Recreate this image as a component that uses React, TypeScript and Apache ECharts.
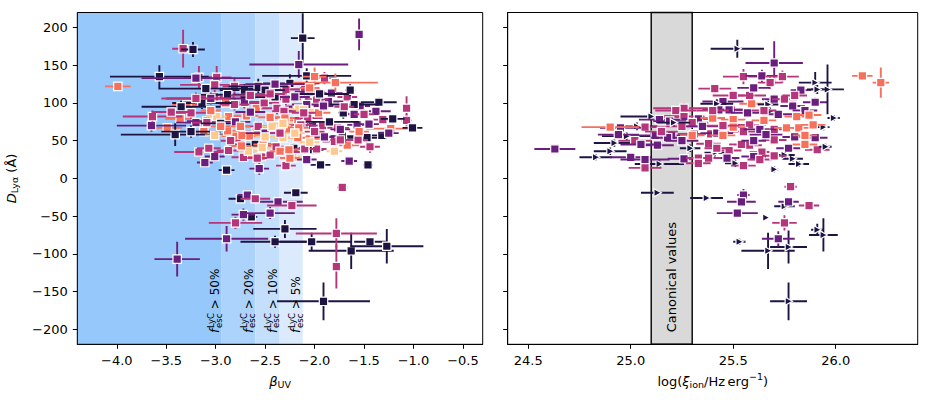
import React, { useEffect, useRef } from "react";
import * as echarts from "echarts";

// magma-like colours: navy, purple, magenta, orange, peach
const PALETTE = ["#1e1444", "#6a1f7e", "#b5367a", "#f6705c", "#fdc98f"];

// ---------- left panel: [beta_UV, D_Lya, betaErr, DErr] ----------
const leftNavy = [
  [-3.23, 171, 0.12, 10], [-2.12, 186, 0.12, 33], [-3.57, 135, 0.5, 15], [-2.08, 136, 0.45, 10],
  [-2.25, 126, 0.3, 12], [-2.71, 117, 0.25, 8], [-2.57, 122, 0.3, 10], [-1.35, 101, 0.18, 6],
  [-1.21, 79, 0.12, 6], [-1.01, 67, 0.1, 4], [-1.47, 54, 0.2, 6], [-1.32, 57, 0.1, 5],
  [-1.46, 18, 0.05, 5], [-1.94, 18, 0.1, 5], [-1.72, 56, 0.12, 6], [-2.01, 38, 0.1, 6],
  [-3.41, 58, 0.55, 15], [-3.25, 62, 0.3, 8], [-3.14, 100, 0.3, 8], [-2.89, 11, 0.08, 5],
  [-2.19, -19, 0.12, 4], [-1.64, 117, 0.05, 8], [-2.88, 111, 0.3, 6], [-3.1, 119, 0.48, 6],
  [-2.21, 40, 0.15, 6], [-1.71, 87, 0.05, 8], [-2.6, 45, 0.25, 6], [-2.4, 108, 0.35, 6],
  [-2.95, 73, 0.2, 6], [-1.85, 75, 0.3, 6], [-2.5, 117, 0.2, 6], [-1.95, 112, 0.3, 6],
  [-1.6, 98, 0.25, 5], [-3.35, 95, 0.4, 8],
  [-2.75, -27, 0.12, 4], [-2.64, -51, 0.06, 4], [-2.3, -67, 0.32, 12], [-2.4, -84, 0.35, 8],
  [-2.03, -84, 0.4, 12], [-1.63, -96, 0.43, 24], [-1.44, -84, 0.16, 6], [-1.27, -90, 0.37, 23],
  [-1.91, -163, 0.47, 25],
];
const leftPurple = [
  [-1.55, 191, 0.03, 21], [-2.16, 151, 0.5, 18], [-1.83, 113, 0.12, 6], [-1.54, 96, 0.1, 6],
  [-1.38, 89, 0.15, 6], [-1.65, 23, 0.08, 4], [-2.56, 13, 0.1, 8], [-3.11, 21, 0.08, 6],
  [-3.01, 29, 0.1, 6], [-3.65, 70, 0.35, 8], [-3.2, 74, 0.2, 6], [-3.09, 76, 0.2, 6],
  [-2.71, 101, 0.2, 8], [-2.26, 92, 0.15, 8], [-1.86, 102, 0.15, 6], [-1.6, 85, 0.12, 6],
  [-1.57, 71, 0.1, 6], [-2.02, 70, 0.15, 6], [-2.36, 35, 0.12, 6], [-2.08, 98, 0.15, 8],
  [-2.08, 25, 0.1, 6], [-1.91, 96, 0.1, 6], [-1.74, 65, 0.1, 6], [-3.05, 106, 0.45, 8],
  [-3.2, 133, 0.55, 6], [-2.5, 60, 0.2, 6], [-2.8, 75, 0.15, 6], [-2.05, 115, 0.15, 6],
  [-2.4, 125, 0.3, 6], [-1.45, 72, 0.1, 5], [-2.2, 108, 0.15, 6], [-2.65, 88, 0.15, 6],
  [-1.9, 55, 0.1, 5], [-1.25, 60, 0.1, 5],
  [-2.68, -22, 0.1, 4], [-2.37, -31, 0.25, 4], [-2.72, -48, 0.12, 8], [-2.45, -46, 0.25, 8],
  [-2.89, -80, 0.42, 17], [-3.39, -107, 0.23, 23],
];
const leftMagenta = [
  [-3.33, 172, 0.11, 25], [-3.17, 134, 0.15, 15], [-2.99, 134, 0.15, 15], [-1.9, 133, 0.12, 8],
  [-3.01, 124, 0.35, 8], [-2.81, 122, 0.12, 12], [-2.29, 118, 0.15, 8], [-2.1, 118, 0.15, 8],
  [-1.67, 108, 0.1, 10], [-1.07, 93, 0.03, 16], [-1.31, 78, 0.1, 6], [-1.07, 77, 0.05, 8],
  [-1.44, 42, 0.1, 8], [-1.72, -12, 0.05, 4], [-2.29, 17, 0.1, 6], [-3.17, 35, 0.25, 6],
  [-3.07, 40, 0.12, 6], [-2.87, 37, 0.12, 6], [-3.64, 82, 0.3, 8], [-3.25, 87, 0.15, 8],
  [-3.09, 74, 0.15, 6], [-3.01, 108, 0.2, 8], [-2.81, 98, 0.15, 8], [-2.51, 100, 0.15, 8],
  [-2.38, 93, 0.15, 8], [-2.29, 105, 0.15, 8], [-2.07, 80, 0.15, 8], [-1.98, 105, 0.12, 8],
  [-1.77, 67, 0.12, 6], [-1.92, 70, 0.12, 6], [-1.8, 49, 0.12, 6], [-1.56, 51, 0.1, 6],
  [-1.98, 39, 0.1, 6], [-2.1, 39, 0.1, 6], [-2.57, 69, 0.15, 6], [-2.75, 45, 0.12, 6],
  [-2.39, 42, 0.12, 6], [-2.27, 35, 0.12, 6], [-2.72, 28, 0.12, 6], [-2.31, 89, 0.12, 6],
  [-2.11, 87, 0.12, 6], [-2.45, 31, 0.1, 6], [-2.58, 27, 0.1, 6], [-2.14, 71, 0.12, 6],
  [-1.74, 51, 0.1, 6], [-3.2, 106, 0.35, 8], [-2.45, 112, 0.15, 6], [-1.7, 95, 0.1, 6],
  [-2.65, 110, 0.2, 6], [-3.45, 88, 0.2, 6], [-1.5, 85, 0.1, 6], [-2.0, 62, 0.1, 6],
  [-2.35, 60, 0.1, 6], [-2.85, 50, 0.1, 6],
  [-2.6, -27, 0.15, 4], [-2.23, -36, 0.25, 4], [-2.8, -59, 0.27, 8], [-1.78, -73, 0.41, 20],
  [-1.78, -117, 0.03, 29],
];
const leftOrange = [
  [-3.99, 122, 0.13, 4], [-2.0, 135, 0.12, 12], [-1.79, 127, 0.43, 12], [-1.23, 66, 0.25, 6],
  [-1.67, 44, 0.12, 6], [-3.49, 67, 0.15, 6], [-3.36, 79, 0.15, 6], [-3.29, 98, 0.15, 6],
  [-3.12, 62, 0.12, 6], [-2.9, 100, 0.12, 6], [-2.87, 82, 0.12, 6], [-2.69, 83, 0.12, 6],
  [-2.59, 93, 0.12, 6], [-2.45, 81, 0.12, 6], [-2.17, 77, 0.12, 6], [-1.96, 87, 0.12, 6],
  [-1.97, 56, 0.12, 6], [-2.17, 54, 0.12, 6], [-2.26, 65, 0.12, 6], [-2.59, 62, 0.12, 6],
  [-2.66, 56, 0.12, 6], [-2.74, 57, 0.12, 6], [-2.82, 56, 0.12, 6], [-2.88, 63, 0.12, 6],
  [-2.54, 29, 0.12, 6], [-2.43, 69, 0.1, 6], [-2.52, 45, 0.1, 6], [-2.35, 36, 0.1, 6],
  [-2.16, 67, 0.1, 6], [-2.25, 27, 0.1, 6], [-2.95, 69, 0.1, 6], [-2.75, 69, 0.1, 6],
  [-2.26, 38, 0.1, 6], [-2.74, 43, 0.1, 6], [-2.3, 80, 0.1, 6], [-2.05, 120, 0.1, 6],
  [-1.55, 62, 0.1, 6], [-3.05, 90, 0.1, 6],
];
const leftPeach = [
  [-1.8, 36, 0.08, 5], [-2.22, 28, 0.1, 5], [-3.01, 57, 0.1, 5], [-2.99, 82, 0.1, 5],
  [-2.16, 92, 0.1, 5], [-2.11, 91, 0.1, 5], [-2.32, 54, 0.1, 5], [-2.43, 69, 0.1, 5],
  [-2.34, 70, 0.1, 5], [-2.67, 36, 0.1, 5], [-2.53, 41, 0.1, 5], [-2.32, 73, 0.1, 5],
  [-2.2, 60, 0.1, 5], [-2.5, 55, 0.1, 5], [-2.05, 48, 0.1, 5],
];

// ---------- right panel: [log xi_ion, D_Lya, xiErr, DErr] ----------
const rightNavyLimits = [
  [25.52, 172, 0.13, 12], [25.9, 127, 0.08, 14], [25.96, 118, 0.08, 33], [25.91, 118, 0.05, 6],
  [25.1, 82, 0.15, 6], [25.03, 69, 0.1, 5], [24.98, 56, 0.12, 5], [24.92, 47, 0.1, 5],
  [24.9, 36, 0.08, 5], [24.83, 28, 0.08, 4], [25.14, 19, 0.12, 5], [25.21, 74, 0.08, 5],
  [25.42, 99, 0.08, 6], [25.41, 34, 0.05, 5], [25.29, 40, 0.05, 5], [25.51, 20, 0.05, 5],
  [25.67, 98, 0.05, 5], [25.68, 89, 0.05, 5], [25.7, 12, 0.02, 4], [25.79, 26, 0.05, 4],
  [25.82, 19, 0.05, 4], [25.75, 31, 0.05, 4], [25.95, 42, 0.03, 4], [25.94, 68, 0.03, 4],
  [25.99, 80, 0.03, 4], [25.13, -19, 0.08, 3], [25.37, -26, 0.08, 3], [25.75, -37, 0.05, 4],
  [25.66, -52, 0.01, 2], [25.91, -68, 0.03, 8], [25.94, -75, 0.07, 22], [25.53, -84, 0.03, 4],
  [25.67, -96, 0.13, 24], [25.77, -91, 0.09, 22], [25.77, -163, 0.09, 25],
];
const rightPurple = [
  [25.7, 153, 0.14, 29], [25.64, 136, 0.08, 8], [25.83, 117, 0.05, 6], [25.9, 101, 0.06, 6],
  [25.79, 96, 0.06, 6], [25.7, 105, 0.06, 6], [25.45, 102, 0.1, 6], [25.43, 91, 0.08, 6],
  [25.48, 91, 0.08, 6], [25.57, 87, 0.08, 6], [25.33, 79, 0.08, 6], [25.14, 78, 0.1, 6],
  [25.19, 76, 0.08, 6], [24.95, 67, 0.1, 5], [24.94, 58, 0.1, 5], [25.12, 57, 0.08, 5],
  [25.13, 44, 0.08, 5], [25.2, 57, 0.08, 5], [25.18, 54, 0.08, 5], [25.35, 69, 0.08, 5],
  [25.42, 60, 0.08, 5], [25.63, 65, 0.08, 5], [25.66, 58, 0.08, 5], [25.72, 85, 0.08, 5],
  [25.9, 54, 0.06, 5], [25.77, 40, 0.06, 5], [25.6, 29, 0.06, 5], [25.47, 27, 0.06, 5],
  [25.26, 26, 0.08, 5], [25.0, 28, 0.1, 5], [25.07, 25, 0.12, 5], [24.63, 39, 0.1, 4],
  [25.6, 120, 0.08, 6], [25.85, 90, 0.06, 6], [25.25, 50, 0.08, 5], [25.05, 45, 0.1, 5],
  [25.6, 50, 0.06, 5], [25.8, 55, 0.06, 5],
  [25.55, -22, 0.03, 8], [25.54, -31, 0.07, 4], [25.52, -46, 0.1, 5], [25.77, -31, 0.05, 5],
  [25.72, -80, 0.08, 10],
];
const rightMagenta = [
  [25.55, 135, 0.1, 10], [25.74, 135, 0.08, 8], [25.68, 127, 0.06, 8], [25.41, 119, 0.08, 6],
  [25.58, 110, 0.08, 6], [25.75, 105, 0.06, 6], [25.49, 91, 0.08, 6], [25.26, 93, 0.15, 6],
  [25.22, 90, 0.1, 6], [25.26, 82, 0.1, 6], [25.3, 74, 0.08, 6], [25.07, 68, 0.1, 5],
  [25.02, 50, 0.08, 5], [25.25, 69, 0.08, 5], [25.31, 59, 0.08, 5], [25.39, 59, 0.08, 5],
  [25.58, 71, 0.08, 5], [25.55, 62, 0.08, 5], [25.7, 65, 0.06, 5], [25.7, 51, 0.06, 5],
  [25.91, 38, 0.06, 5], [25.64, 35, 0.06, 5], [25.58, 44, 0.06, 5], [25.54, 45, 0.06, 5],
  [25.48, 37, 0.06, 5], [25.38, 46, 0.06, 5], [25.42, 40, 0.06, 5], [25.38, 27, 0.06, 5],
  [25.33, 27, 0.06, 5], [25.33, 20, 0.06, 5], [25.55, 17, 0.06, 5], [25.63, 25, 0.06, 5],
  [25.07, 14, 0.08, 5], [25.5, 110, 0.1, 6], [25.65, 90, 0.06, 6], [25.45, 70, 0.08, 5],
  [25.15, 62, 0.08, 5], [25.7, 30, 0.06, 5], [25.4, 90, 0.08, 6], [25.8, 110, 0.06, 6],
  [25.78, -11, 0.03, 6], [25.87, -36, 0.05, 5], [25.75, -59, 0.06, 10],
];
const rightOrange = [
  [26.13, 136, 0.05, 5], [26.22, 127, 0.04, 20], [25.59, 99, 0.06, 6], [25.4, 80, 0.06, 6],
  [25.5, 78, 0.06, 6], [24.9, 68, 0.14, 4], [25.3, 57, 0.06, 5], [25.45, 57, 0.06, 5],
  [25.5, 68, 0.06, 5], [25.65, 77, 0.06, 5], [25.76, 67, 0.06, 5], [25.82, 67, 0.06, 5],
  [25.81, 82, 0.06, 5], [25.87, 84, 0.06, 5], [25.89, 71, 0.06, 5], [25.85, 57, 0.06, 5],
  [25.85, 45, 0.06, 5],
];

// ---------- ticks, spans, labels ----------
const leftXTicks = [-4.0, -3.5, -3.0, -2.5, -2.0, -1.5, -1.0, -0.5];
const rightXTicks = [24.5, 25.0, 25.5, 26.0];
const yTicks = [-200, -150, -100, -50, 0, 50, 100, 150, 200];
const leftXRange = [-4.4, -0.3];
const rightXRange = [24.4, 26.4];
const yRange = [-220, 220];
const fescBounds = [-2.94, -2.6, -2.36, -2.12];
const fescLabels = ["50%", "20%", "10%", "5%"];
const fescColors = ["#97c8fb", "#abd3fb", "#c3dffc", "#dbebfd"];
const canonicalRange = [25.1, 25.3];

const FONT = "DejaVu Sans";
const GL = { left: 77.3, top: 12.5, width: 405.4, height: 331.8 };
const GR = { left: 507.7, top: 12.5, width: 410, height: 331.8 };

// drawing-order offset per colour group (later = on top)
function interleave(groups: number[][][], shape: number, colorIdx: number[], lift: number[]) {
  const items: { k: number; v: number[] }[] = [];
  groups.forEach((g, gi) => {
    g.forEach((p, i) => {
      items.push({ k: (i + 0.5) / g.length + gi * 0.0013 + lift[gi], v: [p[0], p[1], p[2], p[3], colorIdx[gi], shape] });
    });
  });
  items.sort((a, b) => a.k - b.k);
  return items.map((d) => d.v);
}

const minus = (s: string) => s.replace("-", "\u2212");

function renderPoint(_params: any, api: any) {
  const x = api.value(0), y = api.value(1), xe = api.value(2), ye = api.value(3);
  const c = PALETTE[api.value(4)];
  const shape = api.value(5);
  const p = api.coord([x, y]);
  const xl = api.coord([x - xe, y])[0];
  const xr = api.coord([x + xe, y])[0];
  const yt = api.coord([x, y + ye])[1];
  const yb = api.coord([x, y - ye])[1];
  const lw = 1.9;
  const children: any[] = [
    { type: "line", shape: { x1: xl, y1: p[1], x2: xr, y2: p[1] }, style: { stroke: c, lineWidth: lw } },
    { type: "line", shape: { x1: p[0], y1: yt, x2: p[0], y2: yb }, style: { stroke: c, lineWidth: lw } },
  ];
  if (shape === 0) {
    const s = 8.4;
    children.push({
      type: "rect",
      shape: { x: p[0] - s / 2, y: p[1] - s / 2, width: s, height: s },
      style: { fill: c, stroke: "#ffffff", lineWidth: 1.2 },
    });
  } else {
    children.push({
      type: "polygon",
      shape: { points: [[p[0] - 3.4, p[1] - 4], [p[0] + 4, p[1]], [p[0] - 3.4, p[1] + 4]] },
      style: { fill: c, stroke: "#ffffff", lineWidth: 1.2, lineJoin: "miter", miterLimit: 10 },
    });
  }
  return { type: "group", children };
}

let measureCtx: CanvasRenderingContext2D | null = null;
function measure(t: string, size: number, italic: boolean) {
  if (!measureCtx) measureCtx = document.createElement("canvas").getContext("2d");
  measureCtx!.font = `${italic ? "italic " : ""}${size}px "${FONT}"`;
  return measureCtx!.measureText(t).width;
}

type Piece = { t: string; size: number; italic?: boolean; dy?: number; dx?: number; stack?: boolean };
function mathGroup(pieces: Piece[], x: number, y: number, rotation: number, center: boolean) {
  let cx = 0;
  let lastStart = 0;
  const kids: any[] = [];
  for (const p of pieces) {
    const w = measure(p.t, p.size, !!p.italic);
    const start = (p.stack ? lastStart : cx) + (p.dx || 0);
    cx = Math.max(cx, start + w);
    lastStart = start;
    kids.push({
      type: "text",
      x: start,
      y: p.dy || 0,
      z: 120,
      style: {
        text: p.t,
        fontSize: p.size,
        fontFamily: FONT,
        fontStyle: p.italic ? "italic" : "normal",
        fill: "#000",
        align: "left",
        verticalAlign: "middle",
      },
    });
  }
  const shift = center ? -cx / 2 : 0;
  kids.forEach((k) => (k.x += shift));
  return { type: "group", x, y, rotation, children: kids, z: 120 };
}

function axisCommon(ticks: number[], fmt: (v: number) => string, showLabel: boolean) {
  return {
    type: "value",
    axisLine: { show: true, onZero: false, lineStyle: { color: "#000", width: 1 } },
    axisTick: { show: true, inside: false, length: 4.5, customValues: ticks, lineStyle: { color: "#000", width: 1 } },
    axisLabel: {
      show: showLabel,
      customValues: ticks,
      formatter: fmt,
      color: "#000",
      fontSize: 13,
      fontFamily: FONT,
      margin: 9.5,
    },
    splitLine: { show: false },
  };
}

export default function App() {
  const ref = useRef<HTMLDivElement>(null);
  useEffect(() => {
    document.body.style.margin = "0";
    const chart = echarts.init(ref.current!, null, { renderer: "svg" });
    const leftData = interleave(
      [leftNavy, leftPurple, leftMagenta, leftOrange, leftPeach],
      0,
      [0, 1, 2, 3, 4],
      [0, 0, 0, 0.05, 0.25]
    );
    const rightSquares = interleave([rightPurple, rightMagenta, rightOrange], 0, [1, 2, 3], [0, 0, 0.05]);
    const rightTri = rightNavyLimits.map((p) => [p[0], p[1], p[2], p[3], 0, 1]);
    const rightData: number[][] = [];
    const step = rightSquares.length / rightTri.length;
    let ti = 0;
    rightSquares.forEach((d, i) => {
      rightData.push(d);
      while (ti < rightTri.length && ti * step <= i) rightData.push(rightTri[ti++]);
    });
    while (ti < rightTri.length) rightData.push(rightTri[ti++]);

    const blueAreas: any[] = fescBounds.map((b, i) => [
      { xAxis: i === 0 ? leftXRange[0] : fescBounds[i - 1], itemStyle: { color: fescColors[i] } },
      { xAxis: b },
    ]);

    chart.setOption({
      animation: false,
      grid: [
        { ...GL, containLabel: false },
        { ...GR, containLabel: false },
      ],
      xAxis: [
        { ...axisCommon(leftXTicks, (v: number) => minus(v.toFixed(1)), true), gridIndex: 0, min: leftXRange[0], max: leftXRange[1] },
        { ...axisCommon(rightXTicks, (v: number) => v.toFixed(1), true), gridIndex: 1, min: rightXRange[0], max: rightXRange[1] },
      ],
      yAxis: [
        { ...axisCommon(yTicks, (v: number) => minus(String(v)), true), gridIndex: 0, min: yRange[0], max: yRange[1] },
        { ...axisCommon(yTicks, (v: number) => String(v), false), gridIndex: 1, min: yRange[0], max: yRange[1] },
      ],
      series: [
        {
          type: "scatter",
          xAxisIndex: 0,
          yAxisIndex: 0,
          data: [],
          silent: true,
          z: 1,
          markArea: { silent: true, data: blueAreas, itemStyle: { borderWidth: 0 } },
        },
        {
          type: "scatter",
          xAxisIndex: 1,
          yAxisIndex: 1,
          data: [],
          silent: true,
          z: 1,
          markArea: {
            silent: true,
            itemStyle: { color: "#d9d9d9", borderColor: "#000", borderWidth: 1.4 },
            data: [[{ xAxis: canonicalRange[0] }, { xAxis: canonicalRange[1] }]],
          },
        },
        {
          type: "custom",
          xAxisIndex: 0,
          yAxisIndex: 0,
          renderItem: renderPoint,
          data: leftData,
          clip: true,
          silent: true,
          z: 3,
        },
        {
          type: "custom",
          xAxisIndex: 1,
          yAxisIndex: 1,
          renderItem: renderPoint,
          data: rightData,
          clip: true,
          silent: true,
          z: 3,
        },
      ],
    });

    const toPx = (gi: number, pt: number[]) =>
      chart.convertToPixel({ xAxisIndex: gi, yAxisIndex: gi }, pt) as number[];

    const graphics: any[] = [];
    // frames
    graphics.push({ type: "rect", z: 100, silent: true, shape: { x: GL.left, y: GL.top, width: GL.width, height: GL.height }, style: { fill: "none", stroke: "#000", lineWidth: 1 } });
    graphics.push({ type: "rect", z: 100, silent: true, shape: { x: GR.left, y: GR.top, width: GR.width, height: GR.height }, style: { fill: "none", stroke: "#000", lineWidth: 1 } });

    // f_esc labels
    fescBounds.forEach((b, i) => {
      const p = toPx(0, [b, -205]);
      graphics.push(
        mathGroup(
          [
            { t: "f", size: 12, italic: true },
            { t: "LyC", size: 8.5, dy: -4.4, dx: 0.8 },
            { t: "esc", size: 8.5, dy: 3.6, stack: true },
            { t: " > " + fescLabels[i], size: 12 },
          ],
          p[0] - 6.5,
          p[1],
          Math.PI / 2,
          false
        )
      );
    });

    // canonical values label
    const cp = toPx(1, [(canonicalRange[0] + canonicalRange[1]) / 2, -131]);
    graphics.push({
      type: "text",
      x: cp[0],
      y: cp[1],
      rotation: Math.PI / 2,
      z: 120,
      style: { text: "Canonical values", fontSize: 13, fontFamily: FONT, fill: "#000", align: "center", verticalAlign: "middle" },
    });

    // axis titles
    graphics.push(
      mathGroup(
        [
          { t: "D", size: 13, italic: true },
          { t: "Lyα", size: 9.5, dy: 3.8 },
          { t: " (Å)", size: 13 },
        ],
        11,
        GL.top + GL.height / 2,
        Math.PI / 2,
        true
      )
    );
    graphics.push(
      mathGroup(
        [
          { t: "β", size: 13, italic: true },
          { t: "UV", size: 9.5, dy: 3.8 },
        ],
        GL.left + GL.width / 2,
        381,
        0,
        true
      )
    );
    graphics.push(
      mathGroup(
        [
          { t: "log(", size: 13 },
          { t: "ξ", size: 13, italic: true },
          { t: "ion", size: 9.5, dy: 3.8 },
          { t: "/Hz\u2009erg", size: 13 },
          { t: "\u22121", size: 9.5, dy: -4.6 },
          { t: ")", size: 13 },
        ],
        GR.left + GR.width / 2,
        381,
        0,
        true
      )
    );

    chart.setOption({ graphic: graphics });
    return () => chart.dispose();
  }, []);
  return <div ref={ref} style={{ width: 926, height: 400 }} />;
}
